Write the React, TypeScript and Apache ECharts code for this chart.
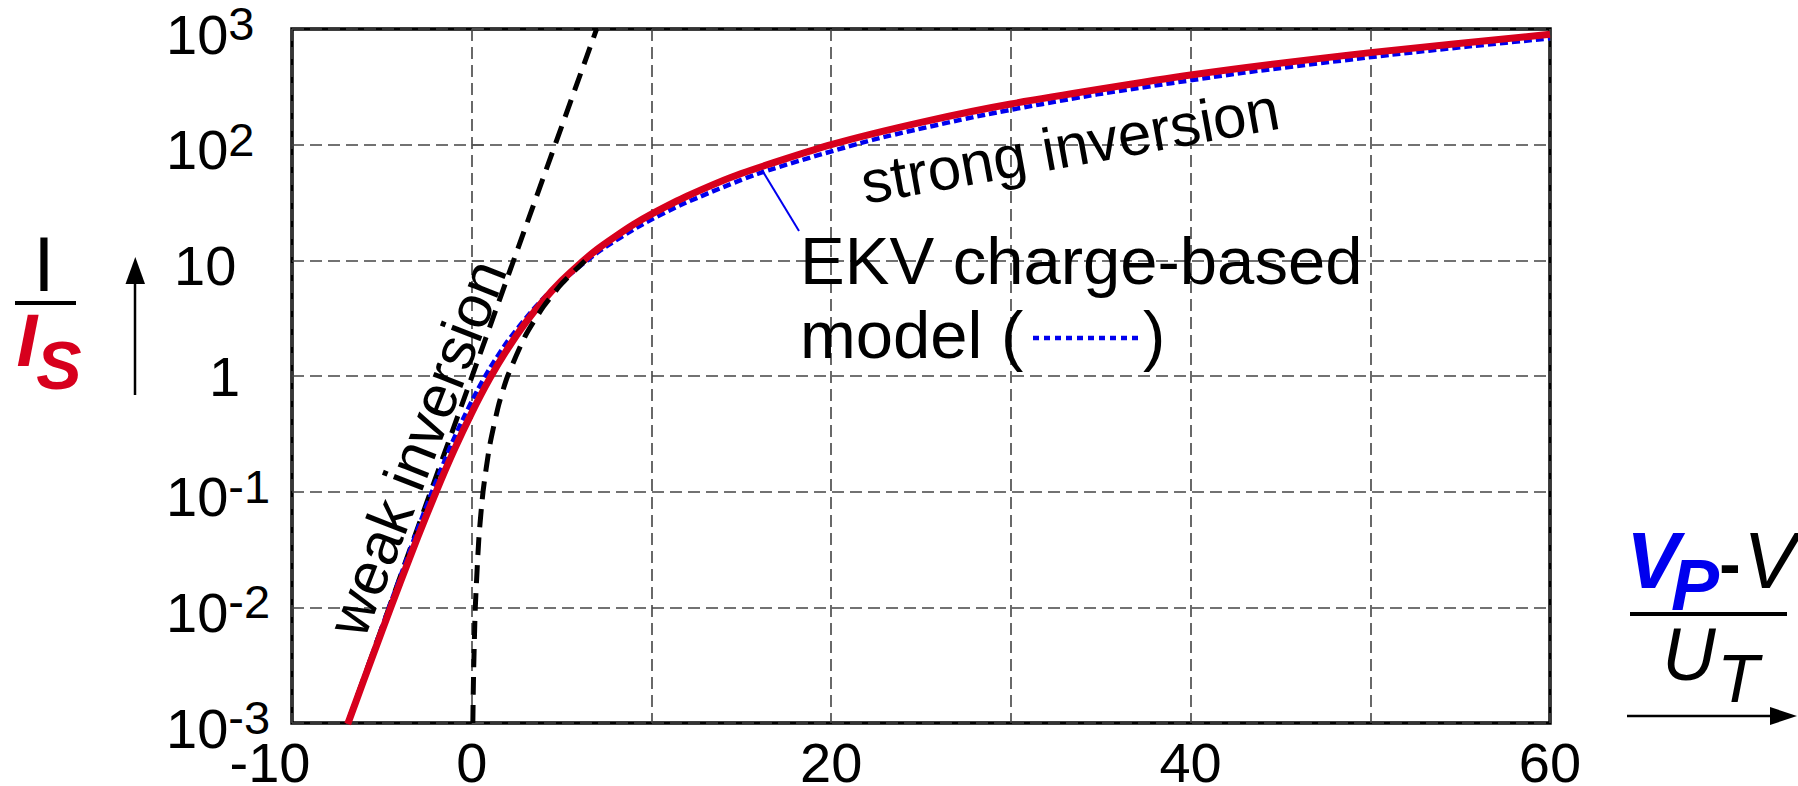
import React, { useEffect, useRef } from 'react';
import * as echarts from 'echarts';

const FONT = '"Liberation Sans", Arial, Helvetica, sans-serif';

// axis ticks
const xTickValues = [-10, 0, 10, 20, 30, 40, 50, 60];
const xTickLabels = ['-10', '0', '', '20', '', '40', '', '60'];
const yTickExponents = [-3, -2, -1, 0, 1, 2, 3];
const yTickBase = ['10', '10', '10', '1', '10', '10', '10'];
const yTickSup = ['-3', '-2', '-1', '', '', '2', '3'];

// red curve (solid)
const exactX = [-6.9, -6, -5, -4, -3, -2, -1, 0, 1, 2, 3, 4, 5, 6, 7, 8, 9, 10, 12, 15, 20, 25, 30, 40, 50, 60];
const exactY = [0.00098, 0.00236, 0.00622, 0.0161, 0.0406, 0.0981, 0.225, 0.48, 0.949, 1.72, 2.89, 4.52, 6.65, 9.29, 12.5, 16.1, 20.4, 25.1, 36.0, 56.3, 100, 156, 225, 400, 625, 900];

// EKV charge-based model (blue dotted)
const ekvX = [-6.91, -6.21, -5.29, -4.59, -3.87, -2.9, -2.1, -1.21, -0.6, 0.31, 1.04, 2.0, 3.41, 4.69, 7.1, 9.39, 11.6, 15.9, 22.3, 28.6, 34.8, 43.0, 51.2, 55.3, 60];
const ekvY = [0.001, 0.002, 0.00503, 0.0101, 0.0204, 0.0525, 0.11, 0.24, 0.39, 0.75, 1.19, 2.0, 3.75, 6.0, 12, 20, 30, 56, 110, 182, 272, 420, 600, 702, 831];

// weak inversion asymptote (black dashed)
const weakX = [-6.9, 6.95];
const weakY = [0.001, 1000];

// strong inversion asymptote (black dashed)
const strongX = [0.063, 0.1, 0.2, 0.4, 0.63, 1, 1.5, 2, 3, 4, 5, 6.3];
const strongY = [0.001, 0.0025, 0.01, 0.04, 0.1, 0.25, 0.5625, 1, 2.25, 4, 6.25, 9.92];

const zip = (xs: number[], ys: number[]) => xs.map((x, i) => [x, ys[i]]);

export default function App() {
  const ref = useRef<HTMLDivElement>(null);
  useEffect(() => {
    if (!ref.current) return;
    const chart = echarts.init(ref.current, null, { renderer: 'svg' });
    const tickFont = { fontFamily: FONT, fontSize: 56, color: '#000' };
    chart.setOption({
      animation: false,
      backgroundColor: '#fff',
      grid: {
        left: 292,
        top: 29,
        width: 1258,
        height: 694,
        show: true,
        containLabel: false,
        outerBoundsMode: 'none',
        borderColor: '#000',
        borderWidth: 3.5,
        backgroundColor: 'transparent',
      },
      xAxis: {
        type: 'value',
        min: -10,
        max: 60,
        interval: 10,
        axisLine: { show: false },
        axisTick: { show: false },
        splitLine: { show: true, lineStyle: { color: '#444', width: 1.6, type: [12, 6] } },
        axisLabel: {
          margin: 16,
          formatter: (v: number) => {
            const i = xTickValues.indexOf(Math.round(v));
            const t = i >= 0 ? xTickLabels[i] : '';
            if (!t) return '';
            return v === -10 ? '{l|' + t + '}' : '{n|' + t + '}';
          },
          rich: {
            n: { ...tickFont, lineHeight: 46 },
            l: { ...tickFont, lineHeight: 46, padding: [0, 44, 0, 0] },
          },
        },
      },
      yAxis: {
        type: 'log',
        logBase: 10,
        min: 0.001,
        max: 1000,
        splitNumber: 6,
        axisLine: { show: false },
        axisTick: { show: true, inside: true, length: 12, lineStyle: { color: '#555', width: 1.5 } },
        splitLine: { show: true, lineStyle: { color: '#444', width: 1.6, type: [12, 6] } },
        axisLabel: {
          margin: 126,
          align: 'left',
          formatter: (v: number) => {
            const e = Math.round(Math.log10(v));
            const i = yTickExponents.indexOf(e);
            if (i < 0) return '';
            const b = yTickBase[i];
            const s = yTickSup[i];
            if (!s) return b === '1' ? '{one|' + b + '}' : '{ten|' + b + '}';
            return '{b|' + b + '}{s|' + s + '}';
          },
          rich: {
            b: { ...tickFont, lineHeight: 44, verticalAlign: 'bottom' },
            s: { ...tickFont, fontSize: 47, lineHeight: 66, verticalAlign: 'bottom', padding: [0, 0, 15, 0] },
            ten: { ...tickFont, lineHeight: 44, padding: [10, 0, 0, 8] },
            one: { ...tickFont, lineHeight: 44, padding: [0, 0, 0, 43] },
          },
        },
      },
      series: [
        {
          type: 'line',
          data: zip(weakX, weakY),
          symbol: 'none',
          lineStyle: { color: '#000', width: 5, type: [18, 10] },
          z: 2,
        },
        {
          type: 'line',
          data: zip(ekvX, ekvY),
          symbol: 'none',
          smooth: 0.2,
          lineStyle: { color: '#0000ee', width: 4.5, type: [8, 4] },
          z: 3,
        },
        {
          type: 'line',
          data: zip(exactX, exactY),
          symbol: 'none',
          smooth: 0.2,
          lineStyle: { color: '#d7001d', width: 7 },
          z: 4,
        },
        {
          type: 'line',
          data: zip(strongX, strongY),
          symbol: 'none',
          smooth: 0.2,
          lineStyle: { color: '#000', width: 5, type: [18, 10] },
          z: 5,
        },
      ],
      graphic: [
        // annotations in plot
        {
          type: 'text', x: 417, y: 448, rotation: 1.2, z: 10,
          style: { text: 'weak inversion', font: '60px ' + FONT, fill: '#000', align: 'center', verticalAlign: 'middle' },
        },
        {
          type: 'text', x: 1070, y: 146, rotation: 0.18, z: 10,
          style: { text: 'strong inversion', font: '60px ' + FONT, fill: '#000', align: 'center', verticalAlign: 'middle' },
        },
        {
          type: 'text', x: 800, y: 260, z: 10,
          style: { text: 'EKV charge-based', font: '67px ' + FONT, fill: '#000', align: 'left', verticalAlign: 'middle' },
        },
        {
          type: 'text', x: 800, y: 334, z: 10,
          style: { text: 'model (', font: '67px ' + FONT, fill: '#000', align: 'left', verticalAlign: 'middle' },
        },
        {
          type: 'text', x: 1143, y: 334, z: 10,
          style: { text: ')', font: '67px ' + FONT, fill: '#000', align: 'left', verticalAlign: 'middle' },
        },
        {
          type: 'line', z: 10,
          shape: { x1: 1033, y1: 338, x2: 1141, y2: 338 },
          style: { stroke: '#0000ee', lineWidth: 4.5, lineDash: [6, 5] },
        },
        {
          type: 'line', z: 10,
          shape: { x1: 762, y1: 170, x2: 799, y2: 231 },
          style: { stroke: '#0000ee', lineWidth: 2 },
        },
        // left axis title I / I_S
        {
          type: 'text', x: 44, y: 264, z: 10,
          style: { text: 'I', font: '77px ' + FONT, fill: '#000', align: 'center', verticalAlign: 'middle' },
        },
        {
          type: 'line', z: 10,
          shape: { x1: 15, y1: 303, x2: 76, y2: 303 },
          style: { stroke: '#000', lineWidth: 4 },
        },
        {
          type: 'text', x: 27, y: 340, z: 10,
          style: { text: 'I', font: 'italic bold 75px ' + FONT, fill: '#d7001d', align: 'center', verticalAlign: 'middle' },
        },
        {
          type: 'text', x: 59, y: 365, z: 10,
          style: { text: 'S', font: 'italic bold 68px ' + FONT, fill: '#d7001d', align: 'center', verticalAlign: 'middle' },
        },
        {
          type: 'line', z: 10,
          shape: { x1: 135, y1: 395, x2: 135, y2: 280 },
          style: { stroke: '#000', lineWidth: 2.5 },
        },
        {
          type: 'polygon', z: 10,
          shape: { points: [[125.5, 284], [145, 284], [135.3, 257]] },
          style: { fill: '#000' },
        },
        // right axis title (V_P - V) / U_T
        {
          type: 'text', x: 1653, y: 560, z: 10,
          style: { text: 'V', font: 'italic bold 80px ' + FONT, fill: '#0000ee', align: 'center', verticalAlign: 'middle' },
        },
        {
          type: 'text', x: 1695, y: 585, z: 10,
          style: { text: 'P', font: 'italic bold 72px ' + FONT, fill: '#0000ee', align: 'center', verticalAlign: 'middle' },
        },
        {
          type: 'text', x: 1730, y: 564, z: 10,
          style: { text: '-', font: 'bold 64px ' + FONT, fill: '#000', align: 'center', verticalAlign: 'middle' },
        },
        {
          type: 'text', x: 1770, y: 560, z: 10,
          style: { text: 'V', font: 'italic 80px ' + FONT, fill: '#000', align: 'center', verticalAlign: 'middle' },
        },
        {
          type: 'line', z: 10,
          shape: { x1: 1630, y1: 614, x2: 1787, y2: 614 },
          style: { stroke: '#000', lineWidth: 4 },
        },
        {
          type: 'text', x: 1689, y: 654, z: 10,
          style: { text: 'U', font: 'italic 74px ' + FONT, fill: '#000', align: 'center', verticalAlign: 'middle' },
        },
        {
          type: 'text', x: 1738, y: 678, z: 10,
          style: { text: 'T', font: 'italic 68px ' + FONT, fill: '#000', align: 'center', verticalAlign: 'middle' },
        },
        {
          type: 'line', z: 10,
          shape: { x1: 1627, y1: 716, x2: 1775, y2: 716 },
          style: { stroke: '#000', lineWidth: 2.5 },
        },
        {
          type: 'polygon', z: 10,
          shape: { points: [[1770, 707], [1770, 725], [1797, 716]] },
          style: { fill: '#000' },
        },
      ],
    });
    return () => chart.dispose();
  }, []);
  return (
    <div
      ref={ref}
      style={{ position: 'absolute', left: 0, top: 0, width: 1798, height: 786 }}
    />
  );
}
